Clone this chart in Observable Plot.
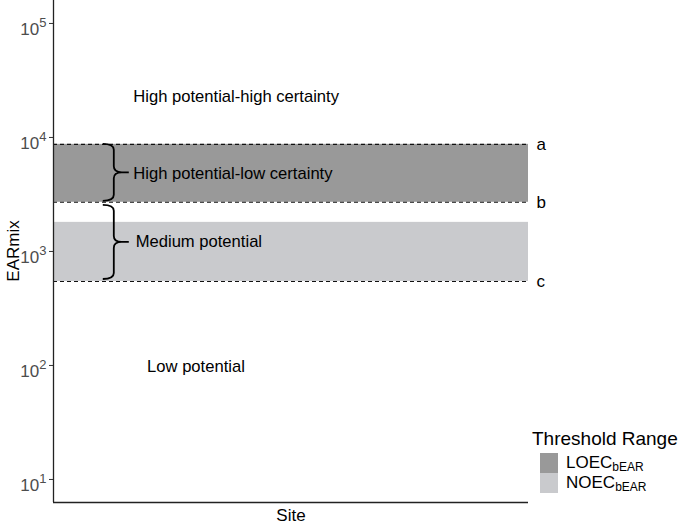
<!DOCTYPE html>
<html><head><meta charset="utf-8">
<script src="https://cdn.jsdelivr.net/npm/d3@7"></script>
<script src="https://cdn.jsdelivr.net/npm/@observablehq/plot@0.6"></script>
<style>
body{margin:0;background:#fff;font-family:"Liberation Sans",Arial,sans-serif;}
#wrap{position:relative;width:682px;height:524px;overflow:hidden;}
#legend{position:absolute;left:532px;top:429px;color:#000;}
#legend .title{font-size:19px;line-height:20px;margin-bottom:4px;}
#legend .item{display:flex;align-items:flex-start;height:20px;margin-left:8px;font-size:17px;line-height:20px;}
#legend .sw{display:inline-block;width:18px;height:20px;margin-right:8px;}
#legend sub{font-size:12px;vertical-align:-3px;line-height:0;}
#ylabel{position:absolute;left:14px;top:251px;transform:translate(-50%,-50%) rotate(-90deg);font-size:17px;color:#000;white-space:nowrap;line-height:20px;}
</style></head><body><div id="wrap"></div>
<script>
// ---- data ----
const bandNames = ["LOEC", "NOEC"];
const bandSub = ["bEAR", "bEAR"];
const bandLow = [2700, 545];
const bandHigh = [8700, 1800];
const bandColors = ["#999999", "#c9cacd"];

const thresholdLabels = ["a", "b", "c"];
const thresholdValues = [8700, 2700, 545];

const zoneLabels = ["High potential-high certainty", "High potential-low certainty", "Medium potential", "Low potential"];
const zoneX = [0.168, 0.168, 0.173, 0.197];
const zoneY = [23000, 4850, 1210, 97];

const braceTop = [8700, 2700];
const braceBottom = [2700, 545];
const braceX = 0.128;

const yTicks = [10, 100, 1000, 10000, 100000];
const yDomain = [6.28, 159000];
const yLabel = "EARmix";
const xLabel = "Site";
const legendTitle = "Threshold Range";

// ---- tables ----
const bands = bandNames.map((n, i) => ({name: n, lo: bandLow[i], hi: bandHigh[i], color: bandColors[i]}));
const thresholds = thresholdLabels.map((l, i) => ({label: l, value: thresholdValues[i]}));
const zones = zoneLabels.map((l, i) => ({label: l, x: zoneX[i], y: zoneY[i]}));

function braces(index, scales) {
  const sx = scales.x, sy = scales.y;
  const g = d3.create("svg:g");
  braceTop.forEach((t, i) => {
    const x0 = sx(braceX);
    const y1 = sy(t) + (i === 0 ? 0 : 3);
    const y2 = sy(braceBottom[i]) - (i === 0 ? 1 : 2);
    const ym = (y1 + y2) / 2;
    const w = 11, tip = 8, r = 6;
    const d = `M${x0 - w},${y1} Q${x0},${y1} ${x0},${y1 + r} L${x0},${ym - r} Q${x0},${ym} ${x0 + tip},${ym}`
      + ` Q${x0},${ym} ${x0},${ym + r} L${x0},${y2 - r} Q${x0},${y2} ${x0 - w},${y2}`
      + ` M${x0 + tip},${ym} L${x0 + tip + 7},${ym}`;
    g.append("path").attr("d", d).attr("fill", "none").attr("stroke", "#000").attr("stroke-width", 1.8);
  });
  return g.node();
}

const plot = Plot.plot({
  width: 682,
  height: 524,
  marginLeft: 53,
  marginRight: 154,
  marginTop: 0,
  marginBottom: 22,
  style: {fontFamily: '"Liberation Sans", Arial, sans-serif', fontSize: "17px", background: "#fff", overflow: "visible"},
  x: {domain: [0, 1], axis: null},
  y: {type: "log", domain: yDomain, axis: null},
  marks: [
    Plot.rect(bands, {x1: 0, x2: 1, y1: "lo", y2: "hi", fill: "color"}),
    Plot.ruleY(thresholds, {y: "value", x1: 0, x2: 1, stroke: "#111", strokeWidth: 1.1, strokeDasharray: "4,3"}),
    Plot.text(thresholds, {y: "value", x: 1, text: "label", dx: 8, textAnchor: "start", fontSize: 17, fill: "#000"}),
    Plot.text(zones, {x: "x", y: "y", text: "label", textAnchor: "start", fontSize: 16.6, fill: "#000"}),
    braces,
    Plot.axisY(yTicks, {tickSize: 4, tickPadding: 3, stroke: "#333", fill: "#4d4d4d", fontSize: 17, tickFormat: d => String(Math.round(Math.log10(d))), label: null}),
    Plot.ruleX([0], {stroke: "#222", strokeWidth: 1.3}),
    Plot.ruleY([yDomain[0]], {x1: 0, x2: 1, stroke: "#222", strokeWidth: 1.3}),
    Plot.text([xLabel], {frameAnchor: "bottom", dy: 18, fontSize: 17, fill: "#000", text: d => d})
  ]
});

// superscript exponents on y tick labels
plot.querySelectorAll('g[aria-label="y-axis tick label"] text').forEach(t => {
  const e = t.textContent;
  t.textContent = "";
  t.setAttribute("dy", "6");
  const base = document.createElementNS("http://www.w3.org/2000/svg", "tspan");
  base.textContent = "10";
  const sup = document.createElementNS("http://www.w3.org/2000/svg", "tspan");
  sup.textContent = e;
  sup.setAttribute("font-size", "13");
  sup.setAttribute("dy", "-8");
  t.appendChild(base);
  t.appendChild(sup);
});

const wrap = document.getElementById("wrap");
wrap.appendChild(plot);

const yl = document.createElement("div");
yl.id = "ylabel";
yl.textContent = yLabel;
wrap.appendChild(yl);

// legend
const legend = document.createElement("div");
legend.id = "legend";
let html = `<div class="title">${legendTitle}</div>`;
bands.forEach((b, i) => {
  html += `<div class="item"><span class="sw" style="background:${b.color}"></span><span>${b.name}<sub>${bandSub[i]}</sub></span></div>`;
});
legend.innerHTML = html;
wrap.appendChild(legend);
</script>
</body></html>
